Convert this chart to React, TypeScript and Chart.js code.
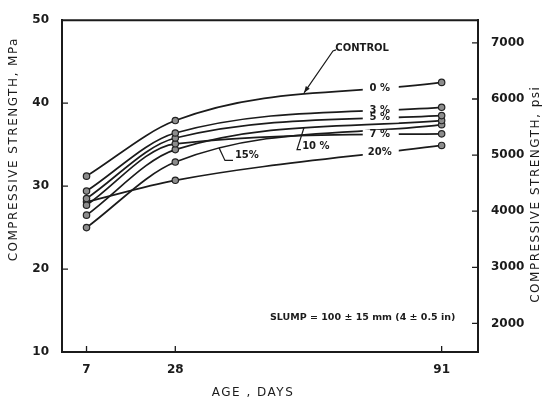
import React, { useEffect, useRef } from "react";
import { Chart, registerables } from "chart.js";

Chart.register(...registerables);

// ---- data ----
const ageDays = [7, 28, 91];
const ageTicks = [7, 28, 91];
const mpaTicks = [10, 20, 30, 40, 50];
const psiTicks = [2000, 3000, 4000, 5000, 6000, 7000];

const seriesNames = ["0 %", "3 %", "5 %", "7 %", "10 %", "15%", "20%"];
const strength0 = [31.2, 37.9, 42.5];
const strength3 = [29.4, 36.4, 39.5];
const strength5 = [28.5, 35.8, 38.5];
const strength7 = [27.7, 35.1, 36.3];
const strength10 = [26.5, 34.4, 37.9];
const strength15 = [25.0, 32.9, 37.4];
const strength20 = [28.1, 30.7, 34.9];
const seriesValues = [strength0, strength3, strength5, strength7, strength10, strength15, strength20];

const leftTitle = "COMPRESSIVE STRENGTH, MPa";
const rightTitle = "COMPRESSIVE STRENGTH, psi";
const xTitle = "AGE , DAYS";
const controlText = "CONTROL";
const slumpText = "SLUMP = 100 ± 15 mm (4 ± 0.5 in)";

// ---- style ----
const INK = "#1b1b1b";
const FONT = '"DejaVu Sans", sans-serif';
const tickFont = { family: FONT, size: 12, weight: "bold" as const };

// labels sitting on the curves (series index, day of label centre)
const curveLabels = [
  { series: 0, day: 76.6 },
  { series: 1, day: 76.6 },
  { series: 2, day: 76.6 },
  { series: 3, day: 76.6 },
  { series: 6, day: 76.6 },
];

function curveY(chart: any, series: number, px: number) {
  const meta = chart.getDatasetMeta(series);
  const p = meta.dataset.interpolate({ x: px }, "x");
  return p ? p.y : chart.scales.y.getPixelForValue(30);
}

const annotationPlugin = {
  id: "annotations",
  afterDraw(chart: any) {
    const { ctx, chartArea: a, scales } = chart;
    const xs = scales.x;
    const ys = scales.y;
    const ps = scales.psi;
    const X = (d: number) => xs.getPixelForValue(d);
    const Y = (m: number) => ys.getPixelForValue(m);
    ctx.save();
    ctx.strokeStyle = INK;
    ctx.fillStyle = INK;

    // top frame
    ctx.lineWidth = 2;
    ctx.beginPath();
    ctx.moveTo(a.left - 1, a.top);
    ctx.lineTo(a.right + 1, a.top);
    ctx.stroke();

    // inward ticks
    ctx.lineWidth = 1.3;
    ctx.beginPath();
    ageTicks.forEach((d) => {
      ctx.moveTo(X(d), a.bottom);
      ctx.lineTo(X(d), a.bottom - 6);
    });
    mpaTicks.slice(1, -1).forEach((m) => {
      ctx.moveTo(a.left, Y(m));
      ctx.lineTo(a.left + 6, Y(m));
    });
    psiTicks.forEach((p) => {
      const y = ps.getPixelForValue(p);
      ctx.moveTo(a.right, y);
      ctx.lineTo(a.right - 6, y);
    });
    ctx.stroke();

    // axis titles
    ctx.font = `12px ${FONT}`;
    (ctx as any).letterSpacing = "1.5px";
    ctx.textAlign = "center";
    ctx.textBaseline = "middle";
    ctx.save();
    ctx.translate(14, a.top + 129);
    ctx.rotate(-Math.PI / 2);
    ctx.fillText(leftTitle, 0, 0);
    ctx.restore();
    ctx.save();
    ctx.translate(536, a.top + 174);
    ctx.rotate(-Math.PI / 2);
    ctx.fillText(rightTitle, 0, 0);
    ctx.restore();
    ctx.fillText(xTitle, a.left + 191, a.bottom + 41);
    (ctx as any).letterSpacing = "0px";

    // labels on curves (break the line with white)
    ctx.font = `bold 10px ${FONT}`;
    curveLabels.forEach((l) => {
      const cx = X(l.day);
      const cy = curveY(chart, l.series, cx);
      ctx.fillStyle = "#ffffff";
      ctx.fillRect(cx - 18, cy - 4.5, 36, 9);
      ctx.fillStyle = INK;
      ctx.fillText(seriesNames[l.series], cx - 1, cy);
    });

    // 10 % pointer
    ctx.lineWidth = 1.2;
    {
      const tx = X(58.45);
      const ty = curveY(chart, 4, tx);
      ctx.beginPath();
      ctx.moveTo(tx, ty);
      ctx.lineTo(X(56.8), Y(34.4));
      ctx.lineTo(X(57.7), Y(34.4));
      ctx.stroke();
      ctx.textAlign = "left";
      ctx.fillText(seriesNames[4], X(58.0), Y(34.76));
    }
    // 15 % pointer
    {
      const tx = X(38.35);
      const ty = curveY(chart, 5, tx);
      ctx.beginPath();
      ctx.moveTo(tx, ty);
      ctx.lineTo(X(39.75), Y(33.1));
      ctx.lineTo(X(41.65), Y(33.1));
      ctx.stroke();
      ctx.fillText(seriesNames[5], X(42.1), Y(33.75));
    }
    // CONTROL arrow
    {
      ctx.textAlign = "center";
      ctx.fillText(controlText, X(72.2), Y(46.6));
      const sx = X(65.3);
      const sy = Y(46.3);
      const tx = X(58.45);
      const ty = curveY(chart, 0, tx) - 1;
      ctx.beginPath();
      ctx.moveTo(sx + 3, sy - 1);
      ctx.lineTo(sx, sy);
      ctx.lineTo(tx, ty);
      ctx.stroke();
      const ang = Math.atan2(ty - sy, tx - sx);
      ctx.beginPath();
      ctx.moveTo(tx, ty);
      ctx.lineTo(tx - 7 * Math.cos(ang - 0.35), ty - 7 * Math.sin(ang - 0.35));
      ctx.lineTo(tx - 7 * Math.cos(ang + 0.35), ty - 7 * Math.sin(ang + 0.35));
      ctx.closePath();
      ctx.fill();
    }
    // slump note
    ctx.textAlign = "left";
    ctx.font = `bold 9.5px ${FONT}`;
    ctx.fillText(slumpText, X(50.4), Y(14.17));

    ctx.restore();
  },
};

export default function App() {
  const canvasRef = useRef<HTMLCanvasElement | null>(null);

  useEffect(() => {
    const canvas = canvasRef.current;
    if (!canvas) return;
    const plainTick = (v: any) => String(v);
    const chart = new Chart(canvas, {
      type: "line",
      data: {
        datasets: seriesValues.map((vals, i) => ({
          label: seriesNames[i],
          data: ageDays.map((d, j) => ({ x: d, y: vals[j] })),
          borderColor: INK,
          borderWidth: 1.7,
          pointRadius: 3.2,
          pointBackgroundColor: "#8c8c8c",
          pointBorderColor: "#222222",
          pointBorderWidth: 1.2,
          cubicInterpolationMode: "monotone" as const,
          fill: false,
          xAxisID: "x",
          yAxisID: "y",
        })),
      },
      options: {
        responsive: false,
        animation: false,
        devicePixelRatio: 1,
        layout: { padding: { top: 16, left: 0, right: 0, bottom: 0 } },
        plugins: {
          legend: { display: false },
          tooltip: { enabled: false },
          title: { display: false },
        },
        scales: {
          x: {
            type: "linear",
            position: "bottom",
            min: 1.2,
            max: 99.6,
            afterBuildTicks: (s: any) => {
              s.ticks = ageTicks.map((v) => ({ value: v }));
            },
            afterFit: (s: any) => {
              s.height = 50;
            },
            grid: { display: true, drawOnChartArea: false, drawTicks: false },
            border: { display: true, color: INK, width: 2 },
            ticks: { font: tickFont, color: INK, padding: 11, autoSkip: false, maxRotation: 0, callback: plainTick },
          },
          y: {
            type: "linear",
            position: "left",
            min: 10,
            max: 50,
            afterBuildTicks: (s: any) => {
              s.ticks = mpaTicks.map((v) => ({ value: v }));
            },
            afterFit: (s: any) => {
              s.width = 62;
            },
            grid: { display: true, drawOnChartArea: false, drawTicks: false },
            border: { display: true, color: INK, width: 2 },
            ticks: { font: tickFont, color: INK, padding: 13, callback: plainTick },
          },
          psi: {
            type: "linear",
            position: "right",
            min: 1490,
            max: 7405,
            afterBuildTicks: (s: any) => {
              s.ticks = psiTicks.map((v) => ({ value: v }));
            },
            afterFit: (s: any) => {
              s.width = 67;
            },
            grid: { display: true, drawOnChartArea: false, drawTicks: false },
            border: { display: true, color: INK, width: 2 },
            ticks: { font: tickFont, color: INK, padding: 13, callback: plainTick },
          },
        },
      },
      plugins: [annotationPlugin],
    } as any);
    return () => chart.destroy();
  }, []);

  return (
    <div style={{ position: "absolute", left: 0, top: 0, width: 545, height: 402, background: "#fff" }}>
      <canvas ref={canvasRef} width={545} height={402} style={{ width: 545, height: 402, display: "block" }} />
    </div>
  );
}
